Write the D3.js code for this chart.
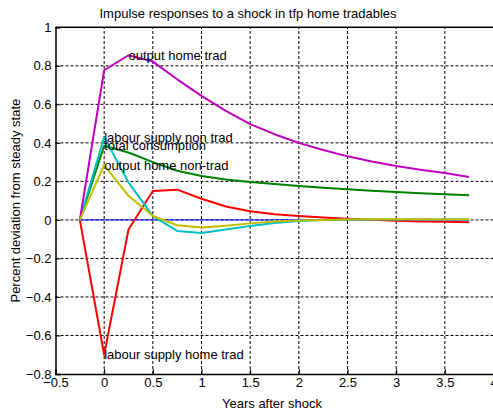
<!DOCTYPE html>
<html><head><meta charset="utf-8">
<script src="https://cdn.jsdelivr.net/npm/d3@7"></script>
<style>body{margin:0;background:#fff}svg{display:block;font-family:"Liberation Sans",Arial,sans-serif}</style>
</head><body><svg id="c" width="493" height="411"></svg>
<script>
const years = [-0.25,0,0.25,0.5,0.75,1,1.25,1.5,1.75,2,2.25,2.5,2.75,3,3.25,3.5,3.75];
const zeroLine = [0,0,0,0,0,0,0,0,0,0,0,0,0,0,0,0,0];
const totalConsumption = [0,0.385,0.35,0.30,0.255,0.228,0.21,0.197,0.186,0.176,0.167,0.159,0.152,0.145,0.139,0.133,0.128];
const labourHomeTrad = [0,-0.70,-0.05,0.15,0.157,0.11,0.07,0.045,0.03,0.02,0.012,0.006,0.001,-0.004,-0.008,-0.01,-0.012];
const labourNonTrad = [0,0.43,0.195,0.02,-0.057,-0.068,-0.05,-0.031,-0.016,-0.006,-0.001,0.001,0.002,0.002,0.002,0.002,0.002];
const outputHomeTrad = [0,0.777,0.855,0.822,0.73,0.644,0.566,0.497,0.445,0.40,0.363,0.33,0.303,0.28,0.26,0.243,0.223];
const outputNonTrad = [0,0.285,0.125,0.02,-0.028,-0.04,-0.03,-0.018,-0.008,-0.003,0,0.002,0.003,0.003,0.003,0.003,0.003];
const xTicks = [-0.5,0,0.5,1,1.5,2,2.5,3,3.5,4];
const yTicks = [-0.8,-0.6,-0.4,-0.2,0,0.2,0.4,0.6,0.8,1];
const titleText = "Impulse responses to a shock in tfp home tradables";
const xLabel = "Years after shock";
const yLabel = "Percent deviation from steady state";

const series = [
  {v: zeroLine, c: "#0000ff", w: 1},
  {v: totalConsumption, c: "#008000", w: 2},
  {v: labourHomeTrad, c: "#ff0000", w: 2},
  {v: labourNonTrad, c: "#00bfbf", w: 2},
  {v: outputHomeTrad, c: "#bf00bf", w: 2},
  {v: outputNonTrad, c: "#bfbf00", w: 2}
];
const labels = [
  {t: "output home trad", x: 0.25, y: 0.855},
  {t: "labour supply non trad", x: 0, y: 0.43},
  {t: "total consumption", x: 0, y: 0.385},
  {t: "output home non-trad", x: 0, y: 0.285},
  {t: "labour supply home trad", x: 0, y: -0.70}
];

const FS = 13;
const svg = d3.select("#c");
const x = d3.scaleLinear().domain([-0.5,4]).range([55.5,493.5]);
const y = d3.scaleLinear().domain([-0.8,1]).range([374,27.3]);

// grid
const g = svg.append("g");
g.selectAll(".gx").data(xTicks.slice(1)).enter().append("line")
  .attr("x1", d=>x(d)).attr("x2", d=>x(d)).attr("y1", y(-0.8)).attr("y2", y(1))
  .attr("stroke","#000").attr("stroke-width",1).attr("stroke-dasharray","3,2");
g.selectAll(".gy").data(yTicks.slice(1,-1)).enter().append("line")
  .attr("y1", d=>y(d)).attr("y2", d=>y(d)).attr("x1", x(-0.5)).attr("x2", x(4))
  .attr("stroke","#000").attr("stroke-width",1).attr("stroke-dasharray","3,2");

// series
const line = d3.line().x((d,i)=>x(years[i])).y(d=>y(d));
series.forEach(s=>{
  svg.append("path").attr("d", line(s.v)).attr("fill","none")
    .attr("stroke", s.c).attr("stroke-width", s.w).attr("stroke-linejoin","round");
});

// axes
const xAxis = d3.axisBottom(x).tickValues(xTicks).tickSize(-5).tickPadding(4).tickFormat(d3.format("~g"));
const yAxis = d3.axisLeft(y).tickValues(yTicks).tickSize(-5).tickPadding(4).tickFormat(d3.format("~g"));
const ax = svg.append("g").attr("transform",`translate(0,${y(-0.8)})`).call(xAxis);
const ay = svg.append("g").attr("transform",`translate(${x(-0.5)},0)`).call(yAxis);
[ax,ay].forEach(a=>{
  a.select(".domain").attr("stroke","#000").attr("stroke-width",1.5);
  a.selectAll("text").attr("font-size",FS).attr("fill","#000").attr("font-family","Liberation Sans, Arial, sans-serif");
  a.selectAll(".tick line").attr("stroke","#000");
});
// top border
svg.append("line").attr("x1",x(-0.5)).attr("x2",x(4)).attr("y1",y(1)).attr("y2",y(1))
  .attr("stroke","#000").attr("stroke-width",1.5);

// labels
svg.selectAll(".lbl").data(labels).enter().append("text")
  .attr("x", d=>x(d.x)).attr("y", d=>y(d.y)).attr("dy","0.35em")
  .attr("font-size",FS).attr("fill","#000").text(d=>d.t);

svg.append("text").attr("x",248).attr("y",18).attr("text-anchor","middle")
  .attr("font-size",FS).text(titleText);
svg.append("text").attr("x",272).attr("y",408).attr("text-anchor","middle")
  .attr("font-size",FS).text(xLabel);
svg.append("text").attr("transform",`translate(20,${(y(1)+y(-0.8))/2}) rotate(-90)`)
  .attr("text-anchor","middle").attr("font-size",FS).text(yLabel);
</script></body></html>
